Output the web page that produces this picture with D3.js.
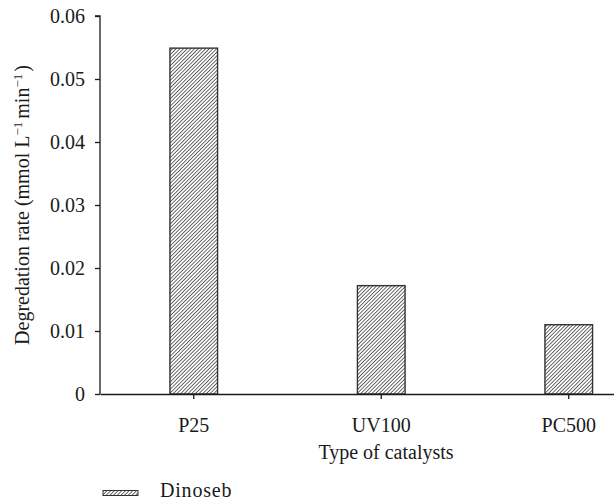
<!DOCTYPE html>
<html>
<head>
<meta charset="utf-8">
<script src="https://cdn.jsdelivr.net/npm/d3@7"></script>
<style>
  html, body { margin: 0; padding: 0; background: #fff; }
  svg { display: block; }
  text { font-family: "Liberation Serif", "DejaVu Serif", serif; fill: #1a1a1a; }
</style>
</head>
<body>
<svg id="chart" width="614" height="502"></svg>
<script>
// Degradation rate of dinoseb for each photocatalyst
const categories = ["P25", "UV100", "PC500"];
const dinoseb = [0.0549, 0.0172, 0.0110];
const yTicks = [0, 0.01, 0.02, 0.03, 0.04, 0.05, 0.06];
const seriesName = "Dinoseb";

const svg = d3.select("#chart");
const margin = { left: 100, top: 16, bottom: 108 };
const plotH = 502 - margin.top - margin.bottom;
const bandW = 187.5;
const fontPx = 20;

const x = d3.scaleBand()
  .domain(categories)
  .range([margin.left, margin.left + bandW * categories.length])
  .paddingInner(0.746)
  .paddingOuter(0.373);

const y = d3.scaleLinear()
  .domain([0, 0.06])
  .range([margin.top + plotH, margin.top]);

// diagonal hatch fill
const hs = 2.6;
const defs = svg.append("defs");
const pat = defs.append("pattern")
  .attr("id", "hatch")
  .attr("patternUnits", "userSpaceOnUse")
  .attr("width", hs)
  .attr("height", hs)
  .attr("patternTransform", "rotate(45)");
pat.append("rect").attr("width", hs).attr("height", hs).attr("fill", "#fff");
pat.append("line")
  .attr("x1", 0).attr("y1", 0).attr("x2", 0).attr("y2", hs)
  .attr("stroke", "#222").attr("stroke-width", 1.35);

// bars
svg.append("g").selectAll("rect")
  .data(categories.map((c, i) => ({ c, v: dinoseb[i] })))
  .join("rect")
  .attr("x", d => x(d.c))
  .attr("y", d => y(d.v))
  .attr("width", x.bandwidth())
  .attr("height", d => y(0) - y(d.v))
  .attr("fill", "url(#hatch)")
  .attr("stroke", "#333")
  .attr("stroke-width", 1.4);

// y axis
const yAxis = svg.append("g")
  .attr("transform", `translate(${margin.left},0)`)
  .call(d3.axisLeft(y).tickValues(yTicks).tickSize(5).tickPadding(10)
    .tickFormat(d => d === 0 ? "0" : d3.format(".2f")(d)));
yAxis.select(".domain").attr("d", `M-5,${y(0.06)}H0V${y(0)}`);

// x axis
svg.append("g")
  .attr("transform", `translate(0,${y(0)})`)
  .call(d3.axisBottom(x).tickSize(5).tickPadding(19).tickSizeOuter(0));

svg.selectAll(".tick text").style("font-size", fontPx + "px")
  .style("font-family", "'Liberation Serif', serif").attr("fill", "#1a1a1a");
svg.selectAll(".domain, .tick line").attr("stroke", "#1a1a1a").attr("stroke-width", 1.3);

// axis titles
svg.append("text")
  .attr("x", 386)
  .attr("y", 459)
  .attr("text-anchor", "middle")
  .style("font-size", fontPx + "px")
  .text("Type of catalysts");

const yl = svg.append("text")
  .attr("transform", `translate(29,${y(0.03)}) rotate(-90)`)
  .attr("text-anchor", "middle")
  .style("font-size", fontPx + "px");
yl.append("tspan").text("Degredation rate (mmol L");
yl.append("tspan").attr("dy", -7).style("font-size", "13px").text("\u22121");
yl.append("tspan").attr("dy", 7).attr("dx", 3).text("min");
yl.append("tspan").attr("dy", -7).style("font-size", "13px").text("\u22121");
yl.append("tspan").attr("dy", 7).attr("dx", 2).text(")");

// legend
const lg = svg.append("g").attr("transform", "translate(103,490.5)");
lg.append("rect").attr("width", 35).attr("height", 5)
  .attr("fill", "url(#hatch)").attr("stroke", "#333").attr("stroke-width", 1);
lg.append("text").attr("x", 57).attr("y", 6.5)
  .style("font-size", fontPx + "px").style("letter-spacing", "0.8px").text(seriesName);
</script>
</body>
</html>
